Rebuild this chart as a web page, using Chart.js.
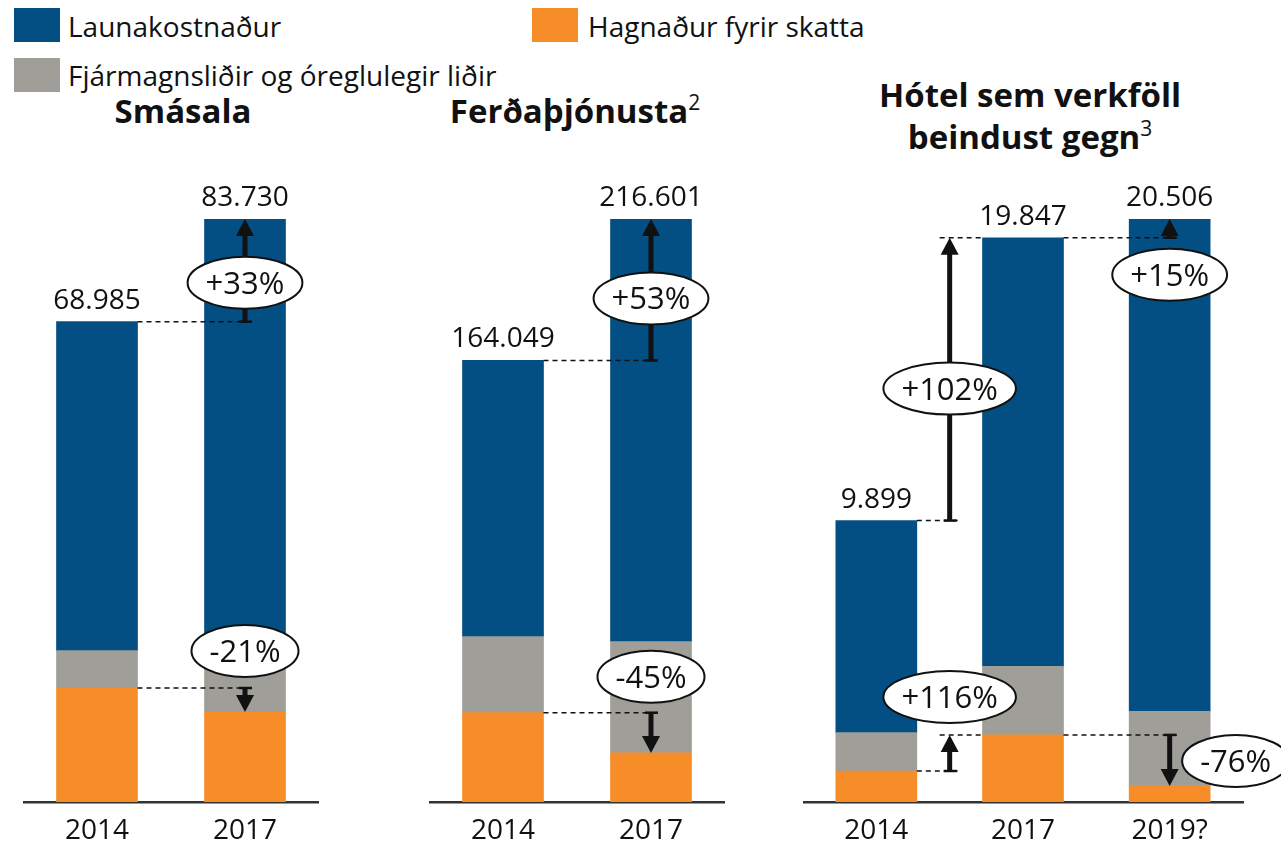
<!DOCTYPE html>
<html lang="is">
<head>
<meta charset="utf-8">
<title>Launakostnaður og hagnaður</title>
<script src="https://cdn.jsdelivr.net/npm/chart.js@4.4.1/dist/chart.umd.min.js"></script>
<style>
  html, body { margin: 0; padding: 0; background: #fff; }
  body { width: 1281px; height: 848px; position: relative; overflow: hidden; font-family: 'Open Sans', sans-serif; color: #111; }
  .sw { position: absolute; width: 46px; height: 34px; }
  .lg { position: absolute; font-size: 28px; line-height: 28px; white-space: nowrap; }
  .ttl { position: absolute; font-weight: 700; font-size: 33px; line-height: 42px; white-space: nowrap; text-align: center; transform: translateX(-50%); }
  .ttl sup { font-weight: 400; font-size: 21px; vertical-align: 0; position: relative; top: -13px; }
  .panel { position: absolute; top: 150px; height: 698px; }
</style>
</head>
<body>

<!-- legend -->
<div class="sw" style="left:14px; top:8px; background:#034f84"></div>
<div class="lg" style="left:68px; top:12px">Launakostnaður</div>
<div class="sw" style="left:532px; top:8px; background:#f78d28"></div>
<div class="lg" style="left:588px; top:12px">Hagnaður fyrir skatta</div>
<div class="sw" style="left:14px; top:58px; background:#a09e98"></div>
<div class="lg" style="left:68px; top:61px">Fjármagnsliðir og óreglulegir liðir</div>

<!-- panel titles -->
<div class="ttl" style="left:183px; top:90px">Smásala</div>
<div class="ttl" style="left:575px; top:90px">Ferðaþjónusta<sup>2</sup></div>
<div class="ttl" style="left:1030px; top:74px">Hótel sem verkföll<br>beindust gegn<sup>3</sup></div>

<div class="panel" style="left:23px; width:296px"><canvas id="smasala"></canvas></div>
<div class="panel" style="left:429px; width:296px"><canvas id="ferda"></canvas></div>
<div class="panel" style="left:803px; width:478px"><canvas id="hotel"></canvas></div>

<script>
// ── data (values in thousand kr.) ─────────────────────────
const smasalaYears = ['2014', '2017'];
const smasalaProfit = [16370, 12930];
const smasalaFinance = [5360, 10800];
const smasalaWages = [47255, 60000];
const smasalaChanges = ['+33%', '-21%'];

const ferdaYears = ['2014', '2017'];
const ferdaProfit = [33180, 18250];
const ferdaFinance = [28240, 41350];
const ferdaWages = [102629, 157001];
const ferdaChanges = ['+53%', '-45%'];

const hotelYears = ['2014', '2017', '2019?'];
const hotelProfit = [1090, 2360, 566];
const hotelFinance = [1350, 2410, 2627];
const hotelWages = [7459, 15077, 17313];
const hotelChanges = ['+102%', '+15%', '+116%', '-76%'];

const BLUE = '#034f84';
const ORANGE = '#f78d28';
const GREY = '#a09e98';
const INK = '#111';

// level: 0 = top of profit, 2 = top of whole bar
// at: 'bar' puts the arrow on the target bar, 'gap' between the two bars
const smasalaArrows = [
  { from: [0, 2], to: [1, 2], at: 'bar', dy: -39 },
  { from: [0, 0], to: [1, 0], at: 'bar', dy: -37 },
];
const ferdaArrows = [
  { from: [0, 2], to: [1, 2], at: 'bar', dy: -62 },
  { from: [0, 0], to: [1, 0], at: 'bar', dy: -36 },
];
const hotelArrows = [
  { from: [0, 2], to: [1, 2], at: 'gap', dy: -132 },
  { from: [1, 2], to: [2, 2], at: 'bar', dy: 37 },
  { from: [0, 0], to: [1, 0], at: 'gap', dy: -74 },
  { from: [1, 0], to: [2, 0], at: 'bar', dx: 66, dy: 26 },
];

const fmt = n => String(n).replace(/\B(?=(\d{3})+(?!\d))/g, '.');

function line(ctx, x0, y0, x1, y1) {
  ctx.beginPath();
  ctx.moveTo(x0, y0);
  ctx.lineTo(x1, y1);
  ctx.stroke();
}

// value labels, dashed guides, arrows and the ellipse badges
const annotate = {
  id: 'annotate',
  afterDatasetsDraw(chart, args, opts) {
    const ctx = chart.ctx;
    const tops = chart.getDatasetMeta(2).data;
    ctx.save();

    ctx.fillStyle = INK;
    ctx.font = '28px "Open Sans"';
    ctx.textAlign = 'center';
    ctx.textBaseline = 'alphabetic';
    tops.forEach((bar, i) => ctx.fillText(fmt(opts.totals[i]), bar.x, bar.y - 13));

    opts.arrows.forEach((a, k) => {
      const fb = chart.getDatasetMeta(a.from[1]).data[a.from[0]];
      const tb = chart.getDatasetMeta(a.to[1]).data[a.to[0]];
      const y0 = fb.y, y1 = tb.y;
      const fromRight = fb.x + fb.width / 2;
      const toLeft = tb.x - tb.width / 2;
      const ax = a.at === 'gap' ? (fromRight + toLeft) / 2 : tb.x;

      ctx.strokeStyle = INK;
      ctx.fillStyle = INK;
      ctx.lineWidth = 1.5;
      ctx.setLineDash([5, 4]);
      line(ctx, fromRight, y0, ax + 8, y0);
      if (a.at === 'gap') line(ctx, ax - 10, y1, toLeft, y1);
      ctx.setLineDash([]);

      ctx.lineWidth = 2.5;
      line(ctx, ax - 6, y0, ax + 7, y0);

      const dir = y1 < y0 ? -1 : 1;
      const headH = 17, headW = 18;
      const baseY = y1 - dir * headH;
      if ((baseY - y0) * dir > 0) {
        ctx.lineWidth = 5;
        line(ctx, ax, y0, ax, baseY + dir);
      }
      ctx.beginPath();
      ctx.moveTo(ax, y1);
      ctx.lineTo(ax - headW / 2, baseY);
      ctx.lineTo(ax + headW / 2, baseY);
      ctx.closePath();
      ctx.fill();

      const label = opts.changes[k];
      ctx.font = '31px "Open Sans"';
      const tw = ctx.measureText(label).width;
      const cx = ax + (a.dx || 0), cy = y0 + a.dy;
      ctx.beginPath();
      ctx.ellipse(cx, cy, (tw + 36) / 2, 26, 0, 0, Math.PI * 2);
      ctx.fillStyle = '#fff';
      ctx.fill();
      ctx.lineWidth = 2;
      ctx.stroke();
      ctx.fillStyle = INK;
      ctx.fillText(label, cx, cy + 11);
      ctx.font = '28px "Open Sans"';
    });
    ctx.restore();
  }
};

function makePanel(id, years, profit, finance, wages, changes, arrows, padRight) {
  const totals = years.map((_, i) => profit[i] + finance[i] + wages[i]);
  return new Chart(document.getElementById(id), {
    type: 'bar',
    data: {
      labels: years,
      datasets: [
        { label: 'Hagnaður fyrir skatta', data: profit, backgroundColor: ORANGE },
        { label: 'Fjármagnsliðir og óreglulegir liðir', data: finance, backgroundColor: GREY },
        { label: 'Launakostnaður', data: wages, backgroundColor: BLUE },
      ],
    },
    options: {
      responsive: true,
      maintainAspectRatio: false,
      animation: false,
      layout: { padding: { top: 69, right: padRight, left: 0, bottom: 0 } },
      datasets: { bar: { barThickness: 81, borderWidth: 0 } },
      scales: {
        x: {
          stacked: true,
          grid: { display: false, drawTicks: false },
          border: { display: true, color: '#333', width: 2.5 },
          ticks: { color: INK, padding: 12, font: { family: 'Open Sans', size: 28 } },
          afterFit: s => { s.height = 46; },
        },
        y: { stacked: true, display: false, min: 0, max: Math.max(...totals) },
      },
      plugins: {
        legend: { display: false },
        tooltip: { enabled: false },
        annotate: { totals, changes, arrows },
      },
    },
    plugins: [annotate],
  });
}

makePanel('smasala', smasalaYears, smasalaProfit, smasalaFinance, smasalaWages, smasalaChanges, smasalaArrows, 0);
makePanel('ferda', ferdaYears, ferdaProfit, ferdaFinance, ferdaWages, ferdaChanges, ferdaArrows, 0);
makePanel('hotel', hotelYears, hotelProfit, hotelFinance, hotelWages, hotelChanges, hotelArrows, 38);
</script>
</body>
</html>
